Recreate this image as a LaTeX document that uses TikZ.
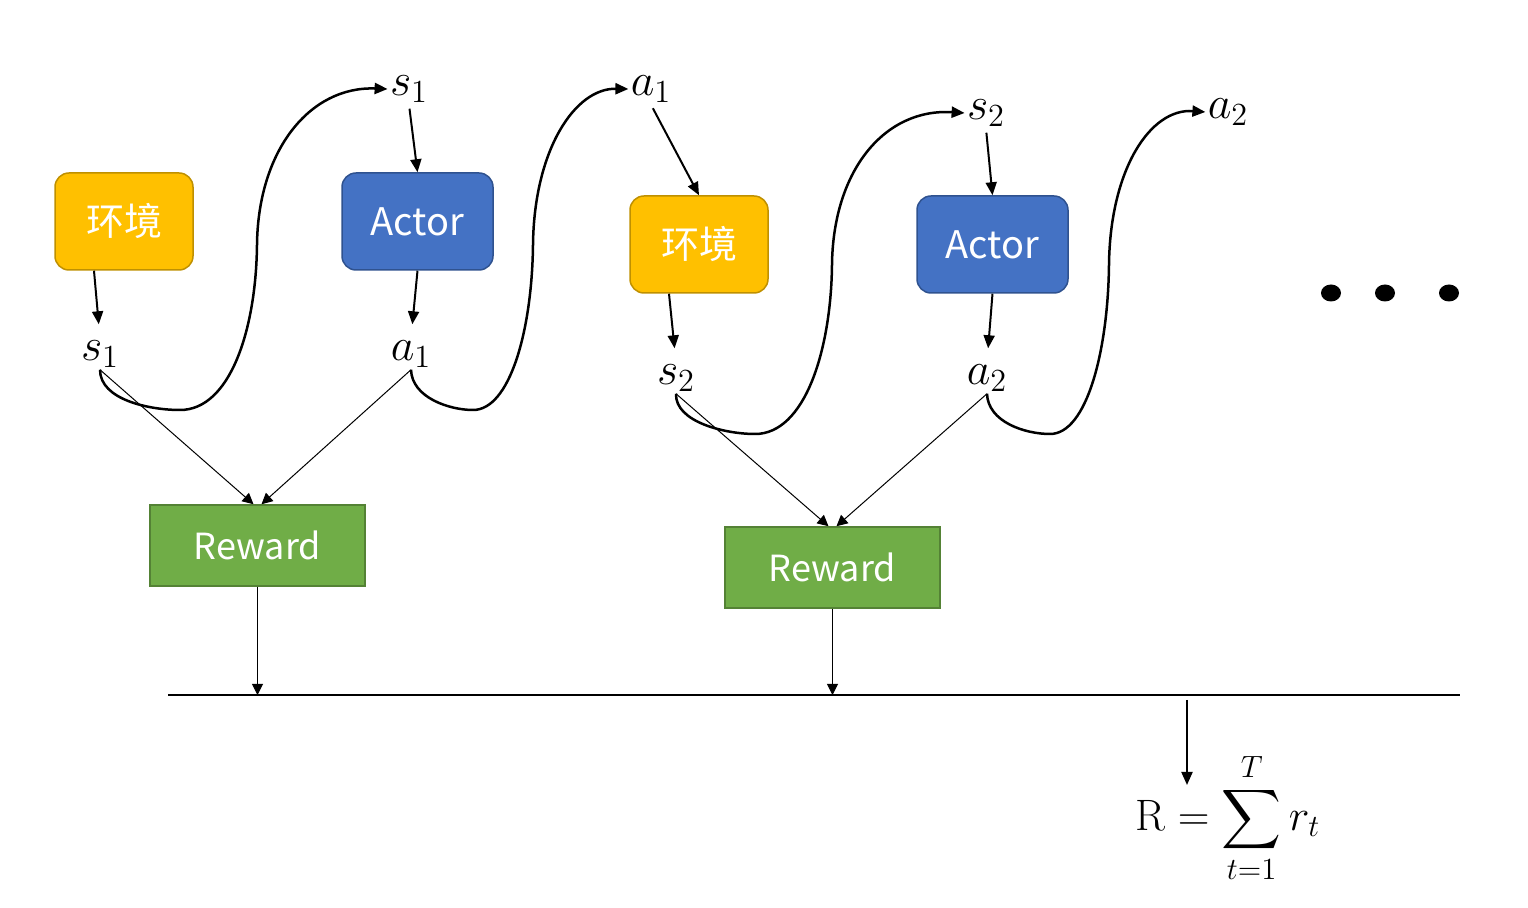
\RequirePackage{fix-cm}
\documentclass[tikz,border=0pt]{standalone}
\usepackage{fontspec}
\newfontfamily\yahei{Noto Sans CJK SC}
\usepackage{amsmath}
\usetikzlibrary{arrows.meta,calc,positioning,shapes.geometric}
\definecolor{envfill}{HTML}{FFC000}
\definecolor{envline}{HTML}{BF9000}
\definecolor{actfill}{HTML}{4472C4}
\definecolor{actline}{HTML}{2F528F}
\definecolor{rewfill}{HTML}{70AD47}
\definecolor{rewline}{HTML}{548235}

\begin{document}
\begin{tikzpicture}[x=0.5pt,y=-0.5pt,
	envbox/.style={draw=envline,fill=envfill,rounded corners=7pt,line width=0.75pt,
		minimum width=69pt,minimum height=48.5pt,text=white,font=\yahei\fontsize{19}{22}\selectfont},
	actbox/.style={envbox,draw=actline,fill=actfill,minimum width=75.5pt},
	rewbox/.style={draw=rewline,fill=rewfill,line width=0.75pt,minimum width=107.5pt,
		minimum height=40.5pt,text=white,font=\yahei\fontsize{18}{22}\selectfont},
	var/.style={inner sep=1pt,font=\fontsize{23}{27}\selectfont},
	feed/.style={-{Triangle[length=6.5pt,width=5.5pt]},line width=1pt},
	loop/.style={-{Triangle[length=6.5pt,width=5.5pt]},line width=1.25pt},
	link/.style={-{Triangle[length=5.5pt,width=5.5pt]},line width=0.5pt},
	dotc/.style={ellipse,fill=black,inner sep=0pt,minimum width=10pt,minimum height=8.5pt}]
	\useasboundingbox (0,0) rectangle (1528,908);
	% first step
	\node[envbox] (env1) at (124,221.5) {环境};
	\node[actbox] (act1) at (417.5,221.5) {Actor};
	\node[var] (s1b) at (100,354) {$s_1$};
	\node[var] (a1b) at (411,354) {$a_1$};
	\node[var] (s1t) at (409,89) {$s_1$};
	\node[var] (a1t) at (651,89) {$a_1$};
	\node[rewbox] (rew1) at (257.5,545.5) {Reward};
	% second step
	\node[envbox] (env2) at (699,244.5) {环境};
	\node[actbox] (act2) at (992.5,244.5) {Actor};
	\node[var] (s2b) at (676,378) {$s_2$};
	\node[var] (a2b) at (987,378) {$a_2$};
	\node[var] (s2t) at (986,113) {$s_2$};
	\node[var] (a2t) at (1228,112) {$a_2$};
	\node[rewbox] (rew2) at (832.5,567.5) {Reward};
	% dots and total
	\node[dotc] (dot1) at (1331,293) {};
	\node[dotc] (dot2) at (1385,293) {};
	\node[dotc] (dot3) at (1449,293) {};
	\node[font=\fontsize{22}{26}\selectfont] (total) at (1228,818)
		{$\displaystyle \mathrm{R}=\sum_{t=1}^{T} r_t$};
	\coordinate (lineL) at (168,695);
	\coordinate (lineR) at (1460,695);
	\coordinate (hit1) at (257.5,695);
	\coordinate (hit2) at (832.5,695);
	\coordinate (tap) at (1187,700);
	\coordinate (tapEnd) at (1187,785);

	\draw[feed,shorten >=7pt] ([xshift=-15pt]env1.south) to (s1b.north);
	\draw[feed,shorten <=2pt] (s1t.south) to (act1.north);
	\draw[feed,shorten >=7pt] (act1.south) to (a1b.north);
	\draw[feed,shorten <=2pt] (a1t.south) to (env2.north);
	\draw[feed,shorten >=7pt] ([xshift=-15pt]env2.south) to (s2b.north);
	\draw[feed,shorten <=2pt] (s2t.south) to (act2.north);
	\draw[feed,shorten >=7pt] (act2.south) to (a2b.north);

	\draw[loop] (s1b.south) .. controls (100,400) and (150,410) .. (180,410)
		.. controls (230,410) and (256,330) .. (257,245)
		.. controls (258,150) and (310,86) .. (s1t.west);
	\draw[loop] (a1b.south) .. controls (412,398) and (450,410) .. (473,410)
		.. controls (510,410) and (532,330) .. (533,245)
		.. controls (534,150) and (575,88) .. (a1t.west);
	\draw[loop] (s2b.south) .. controls (675,422) and (725,434) .. (755,434)
		.. controls (805,434) and (831,350) .. (832,265)
		.. controls (833,170) and (885,108) .. (s2t.west);
	\draw[loop] (a2b.south) .. controls (988,422) and (1025,434) .. (1050,434)
		.. controls (1087,434) and (1108,350) .. (1109,265)
		.. controls (1110,170) and (1150,108) .. (a2t.west);

	\draw[link] (s1b.south) to ([xshift=-2pt]rew1.north);
	\draw[link] (a1b.south) to ([xshift=2pt]rew1.north);
	\draw[link] (s2b.south) to ([xshift=-2pt]rew2.north);
	\draw[link] (a2b.south) to ([xshift=2pt]rew2.north);
	\draw[link] (rew1.south) to (hit1);
	\draw[link] (rew2.south) to (hit2);

	\draw[line width=1pt] (lineL) to (lineR);
	\draw[feed] (tap) to (tapEnd);
\end{tikzpicture}
\end{document}
